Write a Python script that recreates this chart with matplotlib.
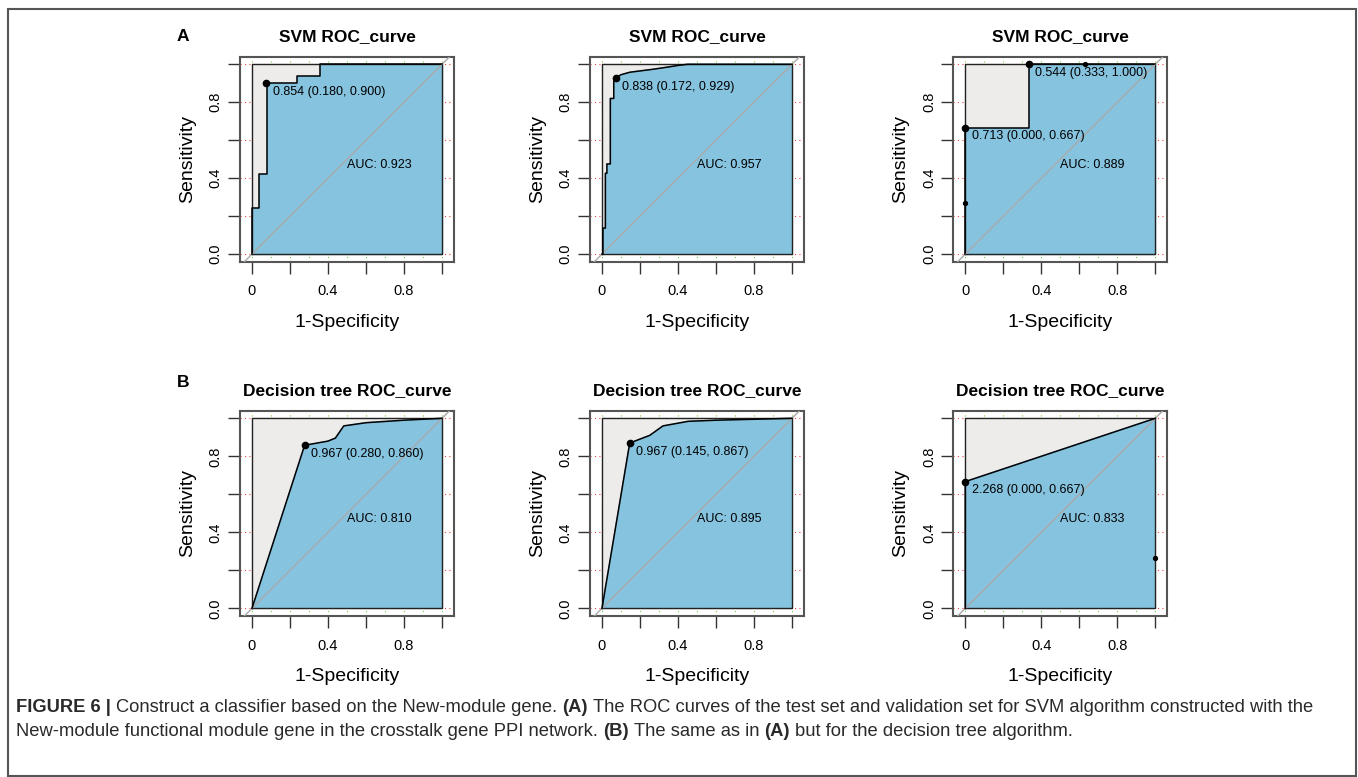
import matplotlib.pyplot as plt

plt.rcParams['font.family'] = ['Liberation Sans', 'DejaVu Sans']

W, H = 1358, 777

titles = ['SVM ROC_curve', 'SVM ROC_curve', 'SVM ROC_curve',
          'Decision tree ROC_curve', 'Decision tree ROC_curve', 'Decision tree ROC_curve']
auc_vals = [0.923, 0.957, 0.889, 0.810, 0.895, 0.833]

# ROC curves: x = 1-specificity, y = sensitivity
fpr_a1 = [0, 0, 0.037, 0.037, 0.077, 0.077, 0.239, 0.239, 0.36, 0.36, 1]
tpr_a1 = [0, 0.242, 0.242, 0.421, 0.421, 0.903, 0.903, 0.94, 0.94, 1, 1]

fpr_a2 = [0, 0.005, 0.005, 0.018, 0.018, 0.026, 0.026, 0.044, 0.044, 0.062, 0.062,
          0.072, 0.10, 0.146, 0.20, 0.27, 0.357, 0.40, 0.45, 1]
tpr_a2 = [0, 0, 0.137, 0.137, 0.426, 0.426, 0.475, 0.475, 0.82, 0.82, 0.909,
          0.929, 0.945, 0.958, 0.965, 0.974, 0.987, 0.994, 1, 1]

fpr_a3 = [0, 0, 0.333, 0.333, 1]
tpr_a3 = [0, 0.667, 0.667, 1, 1]

fpr_b1 = [0, 0.277, 0.40, 0.439, 0.483, 0.602, 0.80, 0.90, 1]
tpr_b1 = [0, 0.858, 0.88, 0.896, 0.96, 0.977, 0.99, 0.995, 1]

fpr_b2 = [0, 0.146, 0.251, 0.321, 0.453, 0.60, 0.80, 1]
tpr_b2 = [0, 0.87, 0.91, 0.96, 0.984, 0.99, 0.995, 1]

fpr_b3 = [0, 0, 1]
tpr_b3 = [0, 0.667, 1]

# threshold points and their labels
pts_x = [[0.076], [0.072], [0.0, 0.333, 0.0, 0.632], [0.277], [0.146], [0.0, 1.0]]
pts_y = [[0.90], [0.929], [0.667, 1.0, 0.27, 1.0], [0.858], [0.87], [0.667, 0.267]]
pts_lab = [['0.854 (0.180, 0.900)'], ['0.838 (0.172, 0.929)'],
           ['0.713 (0.000, 0.667)', '0.544 (0.333, 1.000)', None, None],
           ['0.967 (0.280, 0.860)'], ['0.967 (0.145, 0.867)'],
           ['2.268 (0.000, 0.667)', None]]

fprs = [fpr_a1, fpr_a2, fpr_a3, fpr_b1, fpr_b2, fpr_b3]
tprs = [tpr_a1, tpr_a2, tpr_a3, tpr_b1, tpr_b2, tpr_b3]

# panel frames in pixels (left, top, right, bottom)
lefts = [240, 590, 953.3]
rows = [(56.7, 261.7), (410.7, 616)]

fig = plt.figure(figsize=(W / 100, H / 100), dpi=100)

blue = '#86C3DF'
grey = '#EDECEB'

for i in range(6):
    l = lefts[i % 3]
    t, b = rows[i // 3]
    ax = fig.add_axes([l / W, 1 - b / H, 214 / W, (b - t) / H])
    ax.set_xlim(-0.063, 1.063)
    ax.set_ylim(-0.04, 1.04)

    # dotted grid, only visible in the margin around the polygons
    for gx in [k / 10 for k in range(11)]:
        ax.axvline(gx, color='#7ACC3A', lw=0.8, ls=(0, (1, 3)), zorder=0)
    for gy in [k / 5 for k in range(6)]:
        ax.axhline(gy, color='#FF4040', lw=0.8, ls=(0, (1, 3)), zorder=0)

    ax.fill([0, 1, 1, 0], [0, 0, 1, 1], color=grey, zorder=1)
    fx = fprs[i] + [1, 0]
    fy = tprs[i] + [0, 0]
    ax.fill(fx, fy, color=blue, zorder=2)
    ax.plot([0, 1, 1, 0, 0], [0, 0, 1, 1, 0], color='#222222', lw=1.0, zorder=3)
    ax.axline((0, 0), (1, 1), color='#AAAAAA', lw=1.0, zorder=4)
    ax.plot(fprs[i], tprs[i], color='black', lw=1.1, zorder=5)

    for px, py, lab in zip(pts_x[i], pts_y[i], pts_lab[i]):
        if lab is None:
            ax.plot(px, py, 'o', color='black', ms=2.8, zorder=6, clip_on=False)
        else:
            ax.plot(px, py, 'o', color='black', ms=4.5, zorder=6, clip_on=False)
            ax.annotate(lab, (px, py), xytext=(4.5, -2), textcoords='offset points',
                        ha='left', va='top', fontsize=9, zorder=7)

    ax.text(0.5, 0.5, f'AUC: {auc_vals[i]:.3f}', ha='left', va='top', fontsize=9, zorder=7)

    ax.set_xticks([0, 0.2, 0.4, 0.6, 0.8, 1.0])
    ax.set_xticklabels(['0', '', '0.4', '', '0.8', ''])
    ax.set_yticks([0, 0.2, 0.4, 0.6, 0.8, 1.0])
    ax.set_yticklabels(['0.0', '', '0.4', '', '0.8', ''], rotation=90, va='center')
    ax.tick_params(axis='both', length=8.4, width=1.0, color='#333333', labelsize=10.5)
    ax.tick_params(axis='x', pad=8)
    ax.tick_params(axis='y', pad=4)
    for s in ax.spines.values():
        s.set_color('#555555')
        s.set_linewidth(1.5)

    ax.set_xlabel('1-Specificity', fontsize=14)
    ax.xaxis.set_label_coords(0.5, -0.255)
    ax.set_ylabel('Sensitivity', fontsize=14)
    ax.yaxis.set_label_coords(-0.205, 0.5)
    ax.set_title(titles[i], fontsize=12.5, fontweight='bold', pad=11.5)

fig.text(176.7 / W, 1 - 40.7 / H, 'A', fontsize=12.5, fontweight='bold', va='baseline')
fig.text(176.7 / W, 1 - 386.7 / H, 'B', fontsize=12.5, fontweight='bold', va='baseline')

# outer frame of the figure
fig.add_artist(plt.Rectangle((8 / W, 1 - 776 / H), 1348 / W, 767 / H,
                             transform=fig.transFigure, fill=False,
                             ec='#555555', lw=1.5))

# caption with bold runs
caption = [
    [('FIGURE 6 |', True), ('Construct a classifier based on the New-module gene.', False),
     ('(A)', True), ('The ROC curves of the test set and validation set for SVM algorithm constructed with the', False)],
    [('New-module functional module gene in the crosstalk gene PPI network.', False), ('(B)', True),
     ('The same as in', False), ('(A)', True), ('but for the decision tree algorithm.', False)],
]
cap_size = 13.2
renderer = fig.canvas.get_renderer()
probe1 = fig.text(0, 0, 'x x', fontsize=cap_size)
probe2 = fig.text(0, 0, 'xx', fontsize=cap_size)
space_w = (probe1.get_window_extent(renderer).width - probe2.get_window_extent(renderer).width)
probe1.remove()
probe2.remove()

line_y = [712.5, 736.5]
for runs, ly in zip(caption, line_y):
    x = 16.0
    for txt, bold in runs:
        t = fig.text(x / W, 1 - ly / H, txt, fontsize=cap_size, va='baseline',
                     fontweight='bold' if bold else 'normal', color='#2a2a2a')
        w = t.get_window_extent(renderer).width
        x += w + space_w

fig.savefig('out.png', dpi=100)
